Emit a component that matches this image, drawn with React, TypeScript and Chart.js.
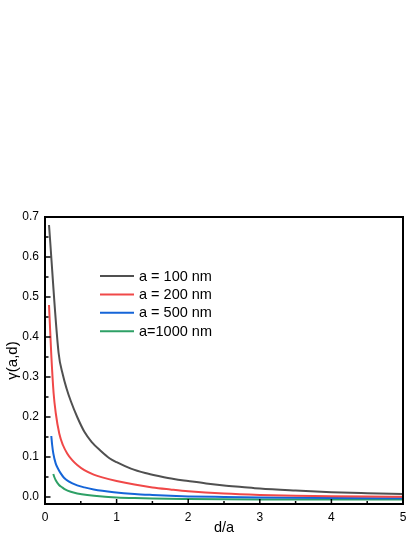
import React, { useEffect, useRef } from 'react';
import { Chart, registerables } from 'chart.js';

Chart.register(...registerables);

const FONT = '"Liberation Sans", Arial, sans-serif';

// ---- data ----
const seriesLabels = ['a = 100 nm', 'a = 200 nm', 'a = 500 nm', 'a=1000 nm'];
const seriesColors = ['#505050', '#f04848', '#1565d8', '#2ea066'];

const d100 = [0.056, 0.19, 0.25, 0.3, 0.36, 0.45, 0.55, 0.65, 0.78, 0.9, 1.0, 1.2, 1.4, 1.6, 1.8, 2.0, 2.25, 2.5, 2.75, 3.0, 3.5, 4.0, 4.5, 5.0];
const g100 = [0.68, 0.36, 0.305, 0.272, 0.24, 0.2, 0.163, 0.138, 0.115, 0.097, 0.087, 0.071, 0.06, 0.052, 0.045, 0.04, 0.034, 0.029, 0.025, 0.021, 0.016, 0.012, 0.0095, 0.0075];

const d200 = [0.056, 0.088, 0.12, 0.15, 0.2, 0.25, 0.31, 0.38, 0.45, 0.55, 0.68, 0.8, 1.0, 1.25, 1.5, 1.75, 2.0, 2.5, 3.0, 3.5, 4.0, 4.5, 5.0];
const g200 = [0.48, 0.355, 0.26, 0.21, 0.158, 0.13, 0.109, 0.092, 0.08, 0.067, 0.056, 0.049, 0.04, 0.031, 0.024, 0.019, 0.0145, 0.0085, 0.005, 0.003, 0.0018, 0.001, 0.0005];

const d500 = [0.088, 0.1, 0.116, 0.149, 0.19, 0.22, 0.265, 0.33, 0.45, 0.55, 0.68, 0.8, 0.96, 1.25, 1.5, 1.75, 2.0, 2.5, 3.0, 3.5, 4.0, 5.0];
const g500 = [0.1525, 0.13, 0.109, 0.084, 0.068, 0.059, 0.048, 0.039, 0.029, 0.024, 0.019, 0.0155, 0.012, 0.0075, 0.005, 0.003, 0.0015, 0, -0.0012, -0.002, -0.0025, -0.003];

const d1000 = [0.116, 0.13, 0.15, 0.196, 0.24, 0.28, 0.36, 0.45, 0.59, 0.8, 1.0, 1.25, 1.5, 2.0, 3.0, 4.0, 5.0];
const g1000 = [0.0575, 0.05, 0.042, 0.03, 0.024, 0.019, 0.013, 0.009, 0.005, 0.0012, -0.001, -0.0028, -0.004, -0.005, -0.006, -0.006, -0.006];

const xTicks = [0, 1, 2, 3, 4, 5];
const xMinorTicks = [0.5, 1.5, 2.5, 3.5, 4.5];
const yTicks = [0, 0.1, 0.2, 0.3, 0.4, 0.5, 0.6, 0.7];
const yMinorTicks = [0.05, 0.15, 0.25, 0.35, 0.45, 0.55, 0.65];

const xs = [d100, d200, d500, d1000];
const ys = [g100, g200, g500, g1000];

const framePlugin = {
  id: 'frameTicks',
  afterDatasetsDraw(chart: any) {
    const { ctx, chartArea: a, scales } = chart;
    const sx = scales.x;
    const sy = scales.y;
    ctx.save();
    ctx.strokeStyle = '#000';
    ctx.lineWidth = 1.5;
    const seg = (x1: number, y1: number, x2: number, y2: number) => {
      ctx.beginPath();
      ctx.moveTo(x1, y1);
      ctx.lineTo(x2, y2);
      ctx.stroke();
    };
    yTicks.forEach((v) => {
      const p = sy.getPixelForValue(v);
      seg(a.left, p, a.left + 5.5, p);
    });
    yMinorTicks.forEach((v) => {
      const p = sy.getPixelForValue(v);
      seg(a.left, p, a.left + 3.5, p);
    });
    xTicks.forEach((v) => {
      const p = sx.getPixelForValue(v);
      seg(p, a.bottom, p, a.bottom - 5);
    });
    xMinorTicks.forEach((v) => {
      const p = sx.getPixelForValue(v);
      seg(p, a.bottom, p, a.bottom - 3);
    });
    ctx.lineWidth = 2;
    ctx.strokeRect(a.left, a.top, a.right - a.left, a.bottom - a.top);
    ctx.restore();
  },
  afterDraw(chart: any) {
    const { ctx, chartArea: a } = chart;
    ctx.save();
    ctx.font = `14.5px ${FONT}`;
    ctx.textBaseline = 'middle';
    ctx.textAlign = 'left';
    chart.data.datasets.forEach((ds: any, i: number) => {
      const yy = a.top + 59 + i * 18.4;
      const x0 = a.left + 55;
      ctx.strokeStyle = ds.borderColor;
      ctx.lineWidth = 2;
      ctx.beginPath();
      ctx.moveTo(x0, yy);
      ctx.lineTo(x0 + 34, yy);
      ctx.stroke();
      ctx.fillStyle = '#000';
      ctx.fillText(ds.label, x0 + 39, yy + 0.5);
    });
    ctx.restore();
  },
};

export default function App() {
  const ref = useRef<HTMLCanvasElement | null>(null);

  useEffect(() => {
    if (!ref.current) return;
    const datasets = seriesLabels.map((label, i) => ({
      label,
      data: xs[i].map((x, j) => ({ x, y: ys[i][j] })),
      borderColor: seriesColors[i],
      backgroundColor: seriesColors[i],
      borderWidth: 2,
      pointRadius: 0,
      showLine: true,
      fill: false,
      cubicInterpolationMode: 'monotone' as const,
    }));
    const chart = new Chart(ref.current, {
      type: 'scatter',
      data: { datasets },
      plugins: [framePlugin],
      options: {
        animation: false,
        responsive: true,
        maintainAspectRatio: false,
        layout: { padding: { top: 217, right: 12, left: 0, bottom: 0 } },
        plugins: { legend: { display: false }, tooltip: { enabled: false } },
        scales: {
          x: {
            type: 'linear',
            min: 0,
            max: 5,
            afterBuildTicks: (s: any) => {
              s.ticks = xTicks.map((v) => ({ value: v }));
            },
            afterFit: (s: any) => {
              s.height = 33;
            },
            grid: { display: false, drawTicks: false },
            border: { display: false },
            ticks: {
              padding: 6,
              color: '#000',
              font: { family: FONT, size: 12 },
              maxRotation: 0,
              callback: (v: any) => String(v),
            },
            title: {
              display: true,
              text: 'd/a',
              color: '#000',
              font: { family: FONT, size: 14.5 },
              padding: { top: 0, bottom: 0 },
            },
          },
          y: {
            type: 'linear',
            min: -0.0175,
            max: 0.7,
            afterBuildTicks: (s: any) => {
              s.ticks = yTicks.map((v) => ({ value: v }));
            },
            afterFit: (s: any) => {
              s.width = 45;
            },
            grid: { display: false, drawTicks: false },
            border: { display: false },
            ticks: {
              padding: 6,
              color: '#000',
              font: { family: FONT, size: 12 },
              callback: (v: any) => Number(v).toFixed(1),
            },
            title: {
              display: true,
              text: 'γ(a,d)',
              color: '#000',
              font: { family: FONT, size: 15 },
              padding: { top: 4, bottom: 0 },
            },
          },
        },
      },
    });
    return () => chart.destroy();
  }, []);

  return (
    <div style={{ position: 'absolute', left: 0, top: 0, width: 415, height: 537, background: '#fff' }}>
      <canvas ref={ref} />
    </div>
  );
}
